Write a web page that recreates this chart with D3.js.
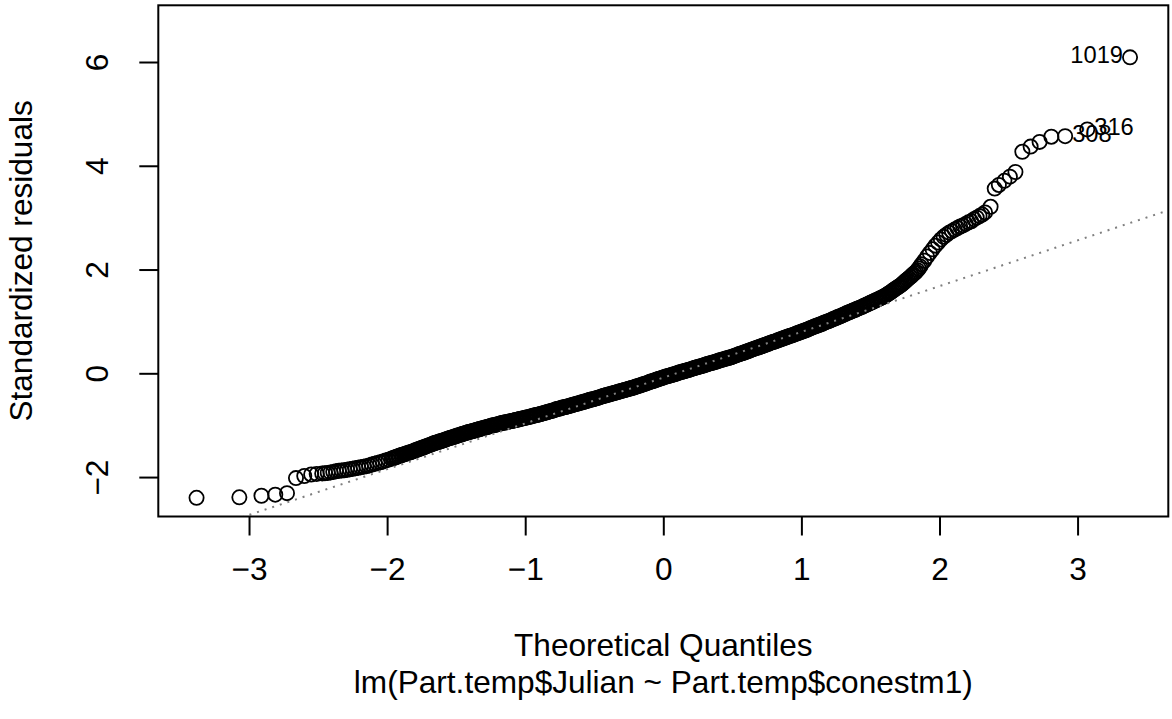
<!DOCTYPE html>
<html><head><meta charset="utf-8">
<script src="https://cdn.jsdelivr.net/npm/d3@7"></script>
<style>
body{margin:0;background:#fff}
svg{display:block}
text{font-family:"Liberation Sans",Arial,Helvetica,sans-serif;fill:#000}
</style>
</head><body>
<svg id="chart" width="1172" height="719"></svg>
<script>
// [theoretical quantile, standardized residual]
const qqPoints = [
[-3.38,-2.40],[-3.07,-2.39],[-2.91,-2.36],[-2.81,-2.34],[-2.725,-2.31],[-2.66,-2.02],[-2.60,-1.98],[-2.55,-1.95],[-2.51,-1.94],
[-2.47,-1.93],[-2.45,-1.925],[-2.43,-1.92],[-2.41,-1.91],[-2.39,-1.90],[-2.37,-1.89],[-2.35,-1.88],[-2.33,-1.875],[-2.31,-1.87],[-2.29,-1.86],
[-2.27,-1.85],[-2.25,-1.84],[-2.23,-1.83],[-2.21,-1.82],[-2.19,-1.81],[-2.17,-1.80],[-2.15,-1.79],[-2.13,-1.775],[-2.11,-1.76],[-2.09,-1.745],
[-2.07,-1.73],[-2.05,-1.715],[-2.03,-1.70],[-2.01,-1.68],[-1.99,-1.665],[-1.97,-1.645],[-1.95,-1.63],[-1.93,-1.61],[-1.91,-1.59],[-1.89,-1.57],
[-1.87,-1.555],[-1.85,-1.535],[-1.83,-1.52],[-1.81,-1.50],[-1.79,-1.48],[-1.77,-1.46],[-1.75,-1.44],[-1.73,-1.42],[-1.71,-1.40],[-1.69,-1.38],
[-1.67,-1.36],[-1.65,-1.34],[-1.63,-1.325],[-1.61,-1.305],[-1.59,-1.29],[-1.57,-1.27],[-1.55,-1.25],[-1.53,-1.235],[-1.51,-1.22],[-1.49,-1.20],
[-1.47,-1.185],[-1.45,-1.165],[-1.43,-1.15],[-1.41,-1.133],[-1.39,-1.12],[-1.37,-1.105],[-1.35,-1.09],[-1.33,-1.075],[-1.31,-1.06],[-1.29,-1.045],
[-1.27,-1.03],[-1.25,-1.015],[-1.23,-1.00],[-1.21,-0.99],[-1.19,-0.975],[-1.17,-0.96],[-1.15,-0.95],[-1.13,-0.94],[-1.11,-0.925],[-1.09,-0.915],
[-1.07,-0.90],[-1.05,-0.89],[-1.03,-0.875],[-1.01,-0.865],[-0.99,-0.85],[-0.97,-0.84],[-0.95,-0.825],[-0.93,-0.81],[-0.91,-0.80],[-0.89,-0.785],
[-0.87,-0.77],[-0.85,-0.755],[-0.83,-0.74],[-0.81,-0.725],[-0.79,-0.71],[-0.77,-0.69],[-0.75,-0.68],[-0.73,-0.66],[-0.71,-0.65],[-0.69,-0.635],
[-0.67,-0.62],[-0.65,-0.605],[-0.63,-0.59],[-0.61,-0.575],[-0.59,-0.56],[-0.57,-0.545],[-0.55,-0.53],[-0.53,-0.51],[-0.51,-0.50],[-0.49,-0.485],
[-0.47,-0.47],[-0.45,-0.45],[-0.43,-0.435],[-0.41,-0.42],[-0.39,-0.405],[-0.37,-0.39],[-0.35,-0.375],[-0.33,-0.36],[-0.31,-0.345],[-0.29,-0.33],
[-0.27,-0.315],[-0.25,-0.30],[-0.23,-0.285],[-0.21,-0.27],[-0.19,-0.25],[-0.17,-0.235],[-0.15,-0.215],[-0.13,-0.20],[-0.11,-0.18],[-0.09,-0.16],
[-0.07,-0.145],[-0.05,-0.125],[-0.03,-0.105],[-0.01,-0.09],[0.01,-0.07],[0.03,-0.055],[0.05,-0.04],[0.07,-0.025],[0.09,-0.01],[0.11,0.01],
[0.13,0.025],[0.15,0.04],[0.17,0.055],[0.19,0.07],[0.21,0.09],[0.23,0.105],[0.25,0.12],[0.27,0.135],[0.29,0.15],[0.31,0.17],
[0.33,0.185],[0.35,0.20],[0.37,0.215],[0.39,0.23],[0.41,0.25],[0.43,0.265],[0.45,0.28],[0.47,0.295],[0.49,0.31],[0.51,0.33],
[0.53,0.35],[0.55,0.37],[0.57,0.385],[0.59,0.405],[0.61,0.425],[0.63,0.445],[0.65,0.465],[0.67,0.485],[0.69,0.50],[0.71,0.52],
[0.73,0.54],[0.75,0.56],[0.77,0.58],[0.79,0.60],[0.81,0.615],[0.83,0.635],[0.85,0.655],[0.87,0.675],[0.89,0.695],[0.91,0.715],
[0.93,0.73],[0.95,0.75],[0.97,0.77],[0.99,0.79],[1.01,0.81],[1.03,0.83],[1.05,0.85],[1.07,0.875],[1.09,0.895],[1.11,0.915],
[1.13,0.935],[1.15,0.955],[1.17,0.98],[1.19,1.00],[1.21,1.02],[1.23,1.045],[1.25,1.065],[1.27,1.09],[1.29,1.11],[1.31,1.135],
[1.33,1.16],[1.35,1.18],[1.37,1.205],[1.39,1.225],[1.41,1.25],[1.43,1.27],[1.45,1.295],[1.47,1.32],[1.49,1.345],[1.51,1.37],
[1.53,1.395],[1.55,1.42],[1.57,1.445],[1.59,1.47],[1.61,1.50],[1.63,1.535],[1.65,1.57],[1.67,1.61],[1.69,1.645],[1.71,1.68],
[1.73,1.72],[1.75,1.77],[1.77,1.815],[1.79,1.86],[1.81,1.91],[1.83,1.955],[1.85,2.02],[1.87,2.10],[1.89,2.17],[1.91,2.25],
[1.93,2.32],[1.95,2.39],[1.97,2.46],[1.99,2.52],[2.01,2.58],[2.03,2.63],[2.05,2.67],[2.07,2.71],[2.09,2.74],[2.11,2.77],
[2.13,2.80],[2.15,2.83],[2.17,2.85],[2.19,2.88],[2.21,2.91],[2.23,2.93],[2.25,2.97],[2.27,3.00],[2.29,3.03],[2.31,3.06],[2.33,3.10],
[2.37,3.21],[2.40,3.56],[2.43,3.63],[2.47,3.71],[2.51,3.79],[2.55,3.88],[2.60,4.27],[2.66,4.37],[2.725,4.46],[2.81,4.56],[2.91,4.57],[3.07,4.70],[3.38,6.09]
];
// further points read along the dense central band
const qqPointsDense = [
[-1.96,-1.638],[-1.94,-1.62],[-1.92,-1.60],[-1.90,-1.58],[-1.88,-1.563],[-1.86,-1.545],[-1.84,-1.528],[-1.82,-1.51],[-1.80,-1.49],[-1.78,-1.47],
[-1.76,-1.45],[-1.74,-1.43],[-1.72,-1.41],[-1.70,-1.39],[-1.68,-1.37],[-1.66,-1.35],[-1.64,-1.333],[-1.62,-1.315],[-1.60,-1.298],[-1.58,-1.28],
[-1.56,-1.26],[-1.54,-1.243],[-1.52,-1.228],[-1.50,-1.21],[-1.48,-1.193],[-1.46,-1.175],[-1.44,-1.158],[-1.42,-1.142],[-1.40,-1.127],[-1.38,-1.113],
[-1.36,-1.098],[-1.34,-1.083],[-1.32,-1.068],[-1.30,-1.053],[-1.28,-1.038],[-1.26,-1.023],[-1.24,-1.008],[-1.22,-0.995],[-1.20,-0.983],[-1.18,-0.968],
[-1.16,-0.955],[-1.14,-0.945],[-1.12,-0.933],[-1.10,-0.92],[-1.08,-0.908],[-1.06,-0.895],[-1.04,-0.883],[-1.02,-0.87],[-1.00,-0.858],[-0.98,-0.845],
[-0.96,-0.833],[-0.94,-0.818],[-0.92,-0.805],[-0.90,-0.793],[-0.88,-0.778],[-0.86,-0.763],[-0.84,-0.748],[-0.82,-0.733],[-0.80,-0.718],[-0.78,-0.70],
[-0.76,-0.685],[-0.74,-0.67],[-0.72,-0.655],[-0.70,-0.643],[-0.68,-0.628],[-0.66,-0.613],[-0.64,-0.598],[-0.62,-0.583],[-0.60,-0.568],[-0.58,-0.553],
[-0.56,-0.538],[-0.54,-0.52],[-0.52,-0.505],[-0.50,-0.493],[-0.48,-0.478],[-0.46,-0.46],[-0.44,-0.443],[-0.42,-0.428],[-0.40,-0.413],[-0.38,-0.398],
[-0.36,-0.383],[-0.34,-0.368],[-0.32,-0.353],[-0.30,-0.338],[-0.28,-0.323],[-0.26,-0.308],[-0.24,-0.293],[-0.22,-0.278],[-0.20,-0.26],[-0.18,-0.243],
[-0.16,-0.225],[-0.14,-0.208],[-0.12,-0.19],[-0.10,-0.17],[-0.08,-0.153],[-0.06,-0.135],[-0.04,-0.115],[-0.02,-0.098],[0.00,-0.08],[0.02,-0.063],
[0.04,-0.048],[0.06,-0.033],[0.08,-0.018],[0.10,0.00],[0.12,0.018],[0.14,0.033],[0.16,0.048],[0.18,0.063],[0.20,0.08],[0.22,0.098],
[0.24,0.113],[0.26,0.128],[0.28,0.143],[0.30,0.16],[0.32,0.178],[0.34,0.193],[0.36,0.208],[0.38,0.223],[0.40,0.24],[0.42,0.258],
[0.44,0.273],[0.46,0.288],[0.48,0.303],[0.50,0.32],[0.52,0.34],[0.54,0.36],[0.56,0.378],[0.58,0.395],[0.60,0.415],[0.62,0.435],
[0.64,0.455],[0.66,0.475],[0.68,0.493],[0.70,0.51],[0.72,0.53],[0.74,0.55],[0.76,0.57],[0.78,0.59],[0.80,0.608],[0.82,0.625],
[0.84,0.645],[0.86,0.665],[0.88,0.685],[0.90,0.705],[0.92,0.723],[0.94,0.74],[0.96,0.76],[0.98,0.78],[1.00,0.80],[1.02,0.82],
[1.04,0.84],[1.06,0.863],[1.08,0.885],[1.10,0.905],[1.12,0.925],[1.14,0.945],[1.16,0.968],[1.18,0.99],[1.20,1.01],[1.22,1.033],
[1.24,1.055],[1.26,1.078],[1.28,1.10],[1.30,1.123],[1.32,1.148],[1.34,1.17],[1.36,1.193],[1.38,1.215],[1.40,1.238],[1.42,1.26],
[1.44,1.283],[1.46,1.308],[1.48,1.333],[1.50,1.358],[1.52,1.383],[1.54,1.408],[1.56,1.433],[1.58,1.458],[1.60,1.485],[1.62,1.518],
[1.64,1.553],[1.66,1.59],[1.68,1.628],[1.70,1.663],[1.72,1.70],[1.74,1.745],[1.76,1.793],[1.78,1.838],[1.80,1.885],[1.82,1.933],
[1.84,1.988],[1.86,2.06]
];
const idLabels = ["1019","316","308"];
const idX = [3.38, 3.07, 2.91];
const idY = [6.09, 4.70, 4.57];
const idSide = ["left","right","right"];
const xTicks = [-3,-2,-1,0,1,2,3];
const yTicks = [-2,0,2,4,6];
const xDomain = [-3.657, 3.657];
const yDomain = [-2.76, 7.093];
const qqIntercept = -0.084, qqSlope = 0.882;
const xLabel = "Theoretical Quantiles";
const subLabel = "lm(Part.temp$Julian ~ Part.temp$conestm1)";
const yLabel = "Standardized residuals";

const plotLeft=158.3, plotRight=1168.3, plotTop=5.3, plotBottom=516.5;
const fs=31.6, lh=fs*1.2, fsId=fs*0.75;
const x=d3.scaleLinear().domain(xDomain).range([plotLeft,plotRight]);
const y=d3.scaleLinear().domain(yDomain).range([plotBottom,plotTop]);
const svg=d3.select("#chart");
svg.append("rect").attr("width",1172).attr("height",719).attr("fill","#fff");

svg.append("defs").append("clipPath").attr("id","plotclip").append("rect")
  .attr("x",plotLeft).attr("y",plotTop).attr("width",plotRight-plotLeft).attr("height",plotBottom-plotTop);

// points
const allPoints = qqPoints.concat(qqPointsDense);
svg.append("g").selectAll("circle").data(allPoints).join("circle")
  .attr("cx",d=>x(d[0])).attr("cy",d=>y(d[1])).attr("r",7.1)
  .attr("fill","none").attr("stroke","#000").attr("stroke-width",1.8);

// qq line
svg.append("line").attr("clip-path","url(#plotclip)")
  .attr("x1",x(xDomain[0])).attr("y1",y(qqIntercept+qqSlope*xDomain[0]))
  .attr("x2",x(xDomain[1])).attr("y2",y(qqIntercept+qqSlope*xDomain[1]))
  .attr("stroke","#7f7f7f").attr("stroke-width",2).attr("stroke-dasharray","2,6");

// id labels
svg.append("g").selectAll("text").data(idLabels).join("text")
  .attr("x",(d,i)=>idSide[i]==="left"? x(idX[i])-7 : x(idX[i])+7)
  .attr("y",(d,i)=>y(idY[i])+fsId*0.25)
  .attr("text-anchor",(d,i)=>idSide[i]==="left"?"end":"start")
  .style("font-size",fsId+"px").text(d=>d);

// box
svg.append("rect").attr("x",plotLeft).attr("y",plotTop).attr("width",plotRight-plotLeft).attr("height",plotBottom-plotTop)
  .attr("fill","none").attr("stroke","#000").attr("stroke-width",2);

// x axis
const gx=svg.append("g").attr("transform",`translate(0,${plotBottom})`)
  .call(d3.axisBottom(x).tickValues(xTicks).tickSize(19).tickFormat(d3.format("d")));
gx.select(".domain").remove();
gx.selectAll("line").attr("stroke","#000").attr("stroke-width",2);
gx.selectAll("text").attr("y",(2-0.333)*lh).attr("dy",null)
  .style("font-size",fs+"px").style("font-family",'"Liberation Sans",Arial,sans-serif').attr("fill","#000");

// y axis
const gy=svg.append("g").attr("transform",`translate(${plotLeft},0)`)
  .call(d3.axisLeft(y).tickValues(yTicks).tickSize(19).tickFormat(d3.format("d")));
gy.select(".domain").remove();
gy.selectAll("line").attr("stroke","#000").attr("stroke-width",2);
gy.selectAll("text").attr("x",0).attr("y",-(1.333)*lh).attr("dy",null)
  .attr("transform","rotate(-90)").attr("text-anchor","middle")
  .style("font-size",fs+"px").style("font-family",'"Liberation Sans",Arial,sans-serif').attr("fill","#000");

// titles
svg.append("text").attr("x",(plotLeft+plotRight)/2).attr("y",plotBottom+(3+1-0.333)*lh)
  .attr("text-anchor","middle").style("font-size",fs+"px").text(xLabel);
svg.append("text").attr("x",(plotLeft+plotRight)/2).attr("y",plotBottom+(4+1-0.333)*lh)
  .attr("text-anchor","middle").style("font-size",fs+"px").text(subLabel);
svg.append("text").attr("transform",`translate(${plotLeft-3.333*lh},${(plotTop+plotBottom)/2}) rotate(-90)`)
  .attr("text-anchor","middle").style("font-size",fs+"px").text(yLabel);
</script>
</body></html>
